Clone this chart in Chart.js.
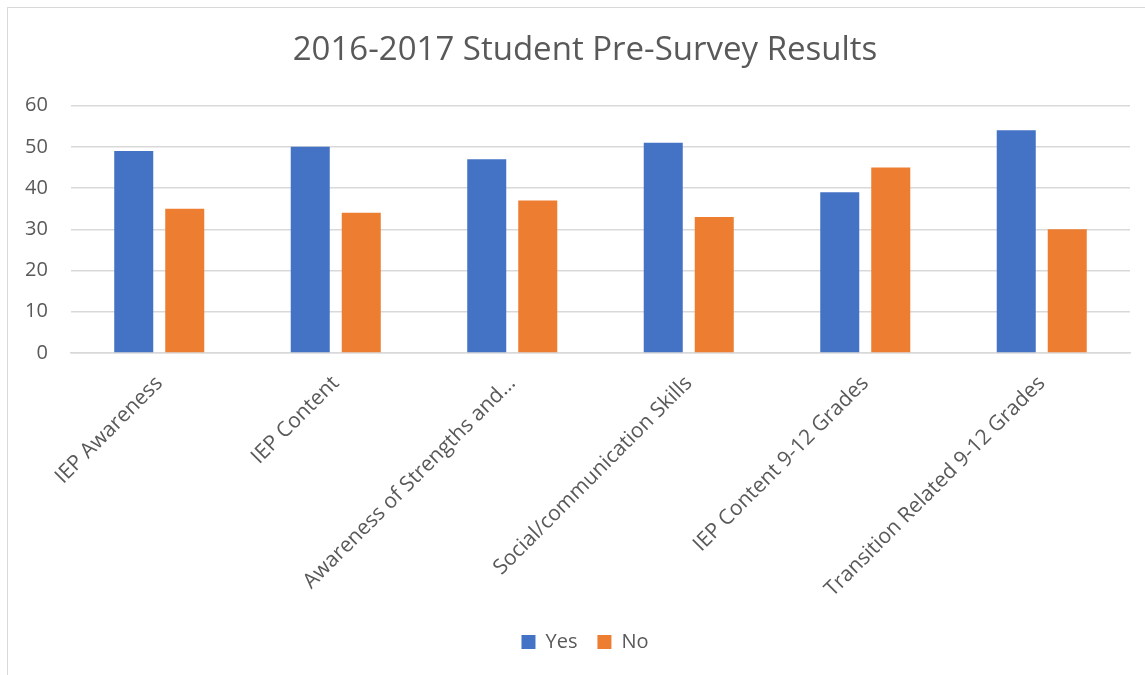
<!DOCTYPE html>
<html>
<head>
<meta charset="utf-8">
<title>2016-2017 Student Pre-Survey Results</title>
<script src="https://cdn.jsdelivr.net/npm/chart.js@4"></script>
<style>
  html, body { margin: 0; padding: 0; background: #fff; overflow: hidden; }
  #frame {
    position: absolute; left: 7px; top: 7px;
    width: 1160px; height: 700px;
    border-left: 1px solid #d9d9d9; border-top: 1px solid #d9d9d9;
  }
  #wrap { position: absolute; left: 0; top: 0; width: 1145px; height: 675px; }
</style>
</head>
<body>
<div id="frame"></div>
<div id="wrap"><canvas id="surveyChart"></canvas></div>
<script>
// survey categories and answer counts
const categories = [
  'IEP Awareness',
  'IEP Content',
  'Awareness of Strengths and...',
  'Social/communication Skills',
  'IEP Content 9-12 Grades',
  'Transition Related 9-12 Grades'
];
const yesCounts = [49, 50, 47, 51, 39, 54];
const noCounts = [35, 34, 37, 33, 45, 30];
const yTicks = [0, 10, 20, 30, 40, 50, 60];

const textColor = '#595959';
const gridColor = '#d9d9d9';
const fontFamily = '"Open Sans", "Noto Sans", sans-serif';

const ctx = document.getElementById('surveyChart');
new Chart(ctx, {
  type: 'bar',
  data: {
    labels: categories,
    datasets: [
      { label: 'Yes', data: yesCounts, backgroundColor: '#4472c4' },
      { label: 'No', data: noCounts, backgroundColor: '#ed7d31' }
    ]
  },
  options: {
    responsive: true,
    maintainAspectRatio: false,
    animation: false,
    // left padding shifts title/legend centre; y axis width keeps plot at x=71
    layout: { padding: { left: 40, right: 15, top: 0, bottom: 13 } },
    datasets: {
      bar: { categoryPercentage: 0.578, barPercentage: 0.765 }
    },
    plugins: {
      title: {
        display: true,
        text: '2016-2017 Student Pre-Survey Results',
        color: textColor,
        font: { family: fontFamily, size: 33, weight: 'normal' },
        padding: { top: 31, bottom: 35 }
      },
      legend: {
        position: 'bottom',
        labels: {
          color: textColor,
          boxWidth: 14,
          boxHeight: 14,
          padding: 20,
          font: { family: fontFamily, size: 20 }
        }
      },
      tooltip: { enabled: false }
    },
    scales: {
      x: {
        grid: { display: false },
        border: { color: gridColor, width: 1.5 },
        ticks: {
          color: textColor,
          font: { family: fontFamily, size: 21 },
          maxRotation: 45,
          minRotation: 45,
          autoSkip: false,
          padding: 10
        }
      },
      y: {
        min: 0,
        max: 60,
        afterFit: (scale) => { scale.width = 31; },
        afterBuildTicks: (scale) => { scale.ticks = yTicks.map(v => ({ value: v })); },
        grid: { color: gridColor, lineWidth: 1.5, drawTicks: false },
        border: { display: false },
        // mirrored + far-aligned so the labels are not clipped to the narrow axis box;
        // negative padding pulls them back left of the plot, right edge at x≈48
        ticks: {
          color: textColor,
          font: { family: fontFamily, size: 20 },
          mirror: true,
          crossAlign: 'far',
          padding: -46
        }
      }
    }
  }
});
</script>
</body>
</html>
